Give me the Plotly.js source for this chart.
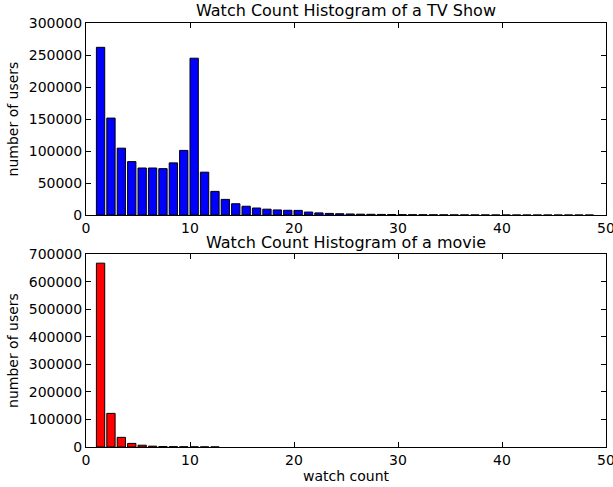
<!DOCTYPE html>
<html>
<head>
<meta charset="utf-8">
<script src="https://cdn.plot.ly/plotly-3.0.1.min.js"></script>
<style>html,body{margin:0;padding:0;background:#fff;}#chart{width:613px;height:487px;}</style>
</head>
<body>
<div id="chart"></div>
<script>
// Watch counts (bins start at these values)
const tvCounts = [1,2,3,4,5,6,7,8,9,10,11,12,13,14,15,16,17,18,19,20,21,22,23,24,25,26,27,28,29,30,31,32,33,34,35,36,37,38,39,40,41,42,43,44,45,46,47,48];
const tvUsers = [262000,151500,104500,83500,73500,73500,72500,81500,101000,245000,67000,37000,24500,17700,13800,11000,9200,8000,7500,7300,4700,3400,2600,2100,1700,1400,1200,1000,850,700,600,500,420,360,300,260,220,190,160,140,120,100,90,80,70,60,50,40];
const movieCounts = [1,2,3,4,5,6,7,8,9,10,11,12];
const movieUsers = [667000,122000,35000,13000,6500,3000,1800,1200,800,550,400,300];

const xTicks = [0,10,20,30,40,50];
const tvYTicks = [0,50000,100000,150000,200000,250000,300000];
const movieYTicks = [0,100000,200000,300000,400000,500000,600000,700000];

const tvTitle = "Watch Count Histogram of a TV Show";
const movieTitle = "Watch Count Histogram of a movie";
const xLabel = "watch count";
const yLabel = "number of users";

const font = "DejaVu Sans, sans-serif";

const traces = [
  {type:'bar', x: tvCounts, y: tvUsers, width: 0.8, offset: 0,
   marker:{color:'#0000ff', line:{color:'#000000', width:1}}, xaxis:'x', yaxis:'y', hoverinfo:'none'},
  {type:'bar', x: movieCounts, y: movieUsers, width: 0.8, offset: 0,
   marker:{color:'#ff0000', line:{color:'#000000', width:1}}, xaxis:'x2', yaxis:'y2', hoverinfo:'none'}
];

const axCommon = {
  showline:true, linecolor:'#000', linewidth:1, mirror:'ticks',
  ticks:'inside', ticklen:5, tickcolor:'#000', tickwidth:1,
  showgrid:false, zeroline:false, ticklabeloverflow:'allow',
  tickfont:{family:font, size:14, color:'#000'}
};

const layout = {
  width:613, height:487,
  margin:{l:86, r:7, t:23, b:40},
  paper_bgcolor:'#fff', plot_bgcolor:'#fff',
  showlegend:false,
  bargap:0,
  font:{family:font, color:'#000'},
  xaxis: Object.assign({}, axCommon, {domain:[0,1], range:[0,50], tickmode:'array', tickvals:xTicks, ticktext:xTicks.map(String), anchor:'y'}),
  yaxis: Object.assign({}, axCommon, {domain:[0.547,1], range:[0,300000], tickmode:'array', tickvals:tvYTicks, ticktext:tvYTicks.map(String), anchor:'x',
    title:{text:yLabel, font:{family:font, size:14, color:'#000'}, standoff:6}}),
  xaxis2: Object.assign({}, axCommon, {domain:[0,1], range:[0,50], tickmode:'array', tickvals:xTicks, ticktext:xTicks.map(String), anchor:'y2',
    title:{text:xLabel, font:{family:font, size:14, color:'#000'}, standoff:4}}),
  yaxis2: Object.assign({}, axCommon, {domain:[0,0.455], range:[0,700000], tickmode:'array', tickvals:movieYTicks, ticktext:movieYTicks.map(String), anchor:'x2',
    title:{text:yLabel, font:{family:font, size:14, color:'#000'}, standoff:6}}),
  annotations:[
    {text:tvTitle, xref:'paper', yref:'paper', x:0.5, y:1, yshift:1, xanchor:'center', yanchor:'bottom', showarrow:false,
     font:{family:font, size:16, color:'#000'}},
    {text:movieTitle, xref:'paper', yref:'paper', x:0.5, y:0.455, yshift:0, xanchor:'center', yanchor:'bottom', showarrow:false,
     font:{family:font, size:16, color:'#000'}}
  ]
};

Plotly.newPlot('chart', traces, layout, {displayModeBar:false, staticPlot:true});
</script>
</body>
</html>
